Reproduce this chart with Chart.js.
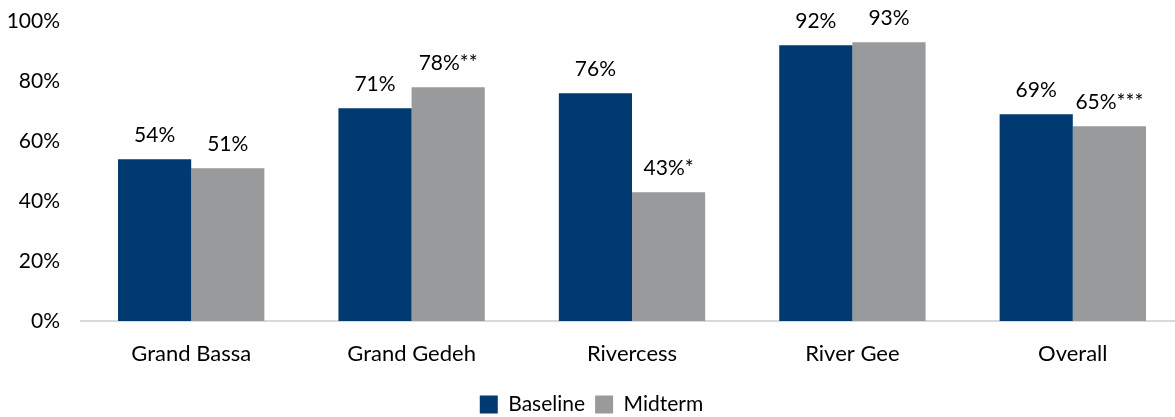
<!DOCTYPE html>
<html>
<head>
<meta charset="utf-8">
<script src="https://cdn.jsdelivr.net/npm/chart.js@4/dist/chart.umd.min.js"></script>
<style>
  html, body { margin: 0; padding: 0; background: #fff; overflow: hidden; }
  #wrap { width: 1183px; height: 417px; }
</style>
</head>
<body>
<div id="wrap"><canvas id="chart"></canvas></div>
<script>
var regions = ['Grand Bassa', 'Grand Gedeh', 'Rivercess', 'River Gee', 'Overall'];
var baseline = [54, 71, 76, 92, 69];
var midterm = [51, 78, 43, 93, 65];
// significance markers shown after the midterm labels
var midtermStars = ['', '**', '*', '', '***'];
var yTicks = [0, 20, 40, 60, 80, 100];

var fontFamily = "Lato, 'Open Sans', sans-serif";
var fontSize = 21;

// value labels above each bar
var barLabels = {
    id: 'barLabels',
    afterDatasetsDraw: function (chart) {
        var ctx = chart.ctx;
        ctx.save();
        ctx.font = fontSize + 'px ' + fontFamily;
        ctx.fillStyle = '#000';
        ctx.textAlign = 'center';
        ctx.textBaseline = 'middle';
        chart.data.datasets.forEach(function (ds, di) {
            var meta = chart.getDatasetMeta(di);
            meta.data.forEach(function (bar, i) {
                var txt = ds.data[i] + '%' + (di === 1 ? midtermStars[i] : '');
                ctx.fillText(txt, bar.x, bar.y - 24);
            });
        });
        ctx.restore();
    }
};

var ctx = document.getElementById('chart').getContext('2d');
var chart = new Chart(ctx, {
    type: 'bar',
    data: {
        labels: regions,
        datasets: [
            {
                label: 'Baseline',
                backgroundColor: '#003A70',
                data: baseline,
                categoryPercentage: 0.664,
                barPercentage: 1
            },
            {
                label: 'Midterm',
                backgroundColor: '#999A9C',
                data: midterm,
                categoryPercentage: 0.664,
                barPercentage: 1
            }
        ]
    },
    options: {
        responsive: true,
        maintainAspectRatio: false,
        animation: false,
        layout: { padding: { top: -6, right: 0, bottom: -8, left: 0 } },
        plugins: {
            legend: {
                position: 'bottom',
                labels: {
                    font: { family: fontFamily, size: fontSize },
                    color: '#000',
                    boxWidth: 18,
                    boxHeight: 18,
                    padding: 10
                }
            },
            tooltip: { enabled: false }
        },
        scales: {
            x: {
                grid: { display: false },
                border: { display: true, color: '#D9D9D9', width: 2 },
                ticks: { font: { family: fontFamily, size: 22 }, color: '#000', padding: 12 },
                afterFit: function (scale) { scale.height = 63; }
            },
            y: {
                min: 0,
                max: 100,
                afterBuildTicks: function (scale) {
                    scale.ticks = yTicks.map(function (v) { return { value: v }; });
                },
                grid: { display: false },
                border: { display: false },
                ticks: {
                    font: { family: fontFamily, size: fontSize, lineHeight: 0.8 },
                    color: '#000',
                    padding: 13,
                    callback: function (v) { return v + '%'; }
                },
                afterFit: function (scale) { scale.width = 81; }
            }
        }
    },
    plugins: [barLabels]
});
</script>
</body>
</html>
